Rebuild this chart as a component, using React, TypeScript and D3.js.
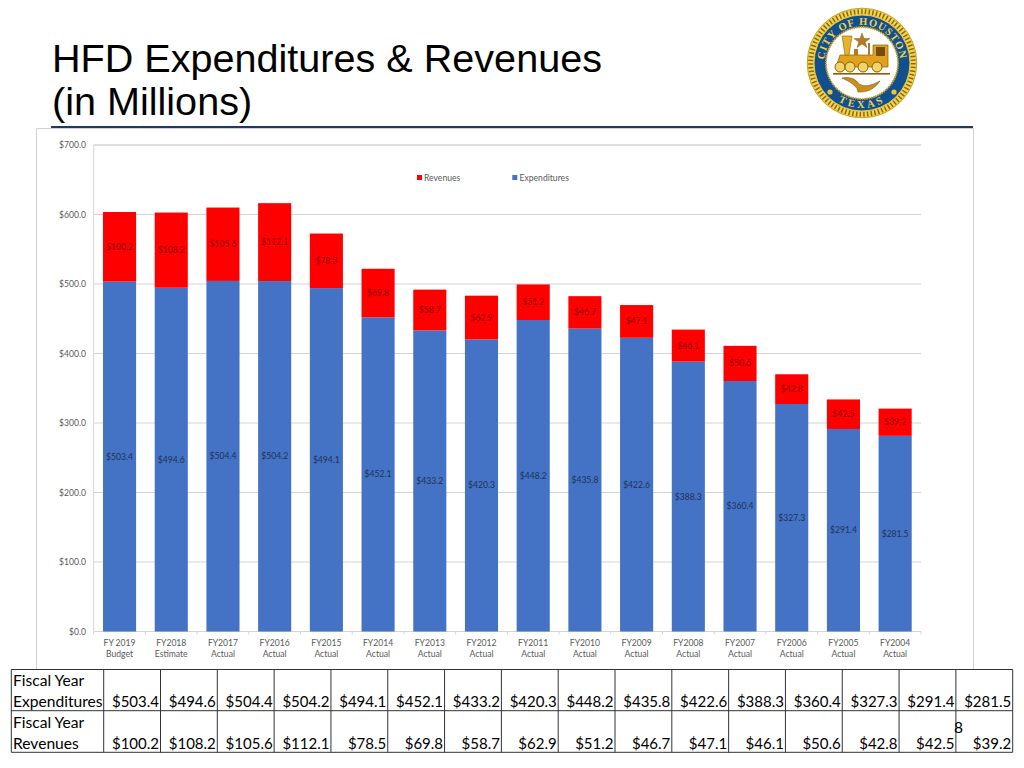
import * as d3 from "d3"

const years = ["FY 2019", "FY2018", "FY2017", "FY2016", "FY2015", "FY2014", "FY2013", "FY2012", "FY2011", "FY2010", "FY2009", "FY2008", "FY2007", "FY2006", "FY2005", "FY2004"]
const statuses = ["Budget", "Estimate", "Actual", "Actual", "Actual", "Actual", "Actual", "Actual", "Actual", "Actual", "Actual", "Actual", "Actual", "Actual", "Actual", "Actual"]
const expenditures = [503.4, 494.6, 504.4, 504.2, 494.1, 452.1, 433.2, 420.3, 448.2, 435.8, 422.6, 388.3, 360.4, 327.3, 291.4, 281.5]
const revenues = [100.2, 108.2, 105.6, 112.1, 78.5, 69.8, 58.7, 62.9, 51.2, 46.7, 47.1, 46.1, 50.6, 42.8, 42.5, 39.2]
const yTicks = [0, 100, 200, 300, 400, 500, 600, 700]

const BLUE = "#4472c4"
const RED = "#ff0000"
const GREY = "#595959"
const chartFont = "Lato, 'Open Sans', sans-serif"

const x = d3.scaleBand<number>().domain(d3.range(years.length)).range([93.7, 921]).paddingInner(0.36).paddingOuter(0.18)
const y = d3.scaleLinear().domain([0, 700]).range([631.5, 145])
const money = (v: number) => `$${v.toFixed(1)}`

// table column edges
const tableCol = d3.scaleLinear().domain([0, 16]).range([103.7, 1012.7])
const tableRows = [669.5, 710.7, 752.3]

function Seal() {
  return (
    <g transform="translate(862,63)">
      <circle r={54.8} fill="#f4d354" stroke="#b8900f" strokeWidth={0.8} />
      <circle r={51.3} fill="none" stroke="#8a6a08" strokeWidth={5} strokeDasharray="1.5 2.2" />
      <circle r={48} fill="#10508f" stroke="#e9c53b" strokeWidth={1} />
      <circle r={36} fill="#fff" stroke="#c9a227" strokeWidth={2} strokeDasharray="1.5 0.8" />
      <defs>
        <path id="sealTop" d="M -37.67 5 A 38 38 0 1 1 37.67 5" />
        <path id="sealBottom" d="M -38.07 24 A 45 45 0 0 0 38.07 24" />
      </defs>
      <text fontFamily="'Liberation Serif', serif" fontSize={10.5} fontWeight={700} fill="#f0cf4a" letterSpacing={1}>
        <textPath href="#sealTop" startOffset="50%" textAnchor="middle">CITY OF HOUSTON</textPath>
      </text>
      <text fontFamily="'Liberation Serif', serif" fontSize={10.5} fontWeight={700} fill="#f0cf4a" letterSpacing={3}>
        <textPath href="#sealBottom" startOffset="50%" textAnchor="middle">TEXAS</textPath>
      </text>
      <path d="M 0 -30 L 2 -24.5 L 8 -24.5 L 3.2 -21 L 5 -15.5 L 0 -19 L -5 -15.5 L -3.2 -21 L -8 -24.5 L -2 -24.5 Z" fill="#b5792a" stroke="#8a6a08" strokeWidth={0.5} />
      {/* locomotive */}
      <path d="M -26 4 L -22 -8 L 11 -8 L 11 -18 L 26 -18 L 26 4 Z" fill="#dfa21c" stroke="#8a5f08" strokeWidth={0.7} />
      <path d="M -17 -8 L -20 -27 L -10 -27 L -13 -8 Z" fill="#e6b32a" stroke="#8a5f08" strokeWidth={0.6} />
      <rect x={-8} y={-14} width={4} height={6} fill="#b5792a" />
      <rect x={6} y={-20} width={2} height={12} fill="#b5792a" />
      <rect x={14} y={-16} width={9} height={9} fill="#7a4a08" />
      {[-22, -12, 1, 15].map((cx) => (
        <circle key={cx} cx={cx} cy={4} r={5} fill="#f3d468" stroke="#8a5f08" strokeWidth={1} />
      ))}
      <rect x={-29} y={10} width={57} height={1.6} fill="#8a5f08" />
      {/* plough */}
      <path d="M -20 15 Q -8 13 -3 21 Q 4 26 18 18 Q 10 30 -4 29 Q -4 22 -20 15 Z" fill="#c98f1c" stroke="#8a5f08" strokeWidth={0.7} />
      <circle cx={-32} cy={29} r={2.6} fill="#e9c53b" />
      <circle cx={32} cy={29} r={2.6} fill="#e9c53b" />
    </g>
  )
}

export default function App() {
  const bw = x.bandwidth()
  const axisLeft = y.range()[0]
  return (
    <svg width={1024} height={768} viewBox="0 0 1024 768" style={{ position: "absolute", left: 0, top: 0, display: "block", background: "#fff" }}>
      {/* slide title */}
      <g fontFamily="'Liberation Sans', Arial, sans-serif" fontSize={39.6} fill="#000">
        <text x={52} y={72}>HFD Expenditures &amp; Revenues</text>
        <text x={52} y={115}>(in Millions)</text>
      </g>
      <Seal />

      {/* chart frame */}
      <path d="M 36.5 669 L 36.5 128.5 L 973.5 128.5 L 973.5 669" fill="none" stroke="#d0d0d0" strokeWidth={1} />
      <line x1={51} x2={973} y1={127} y2={127} stroke="#1f3864" strokeWidth={2} />

      {/* grid */}
      {yTicks.filter((t) => t > 0).map((t) => (
        <line key={t} x1={x.range()[0]} x2={x.range()[1]} y1={y(t)} y2={y(t)} stroke="#d4d4d4" strokeWidth={t === 700 ? 1.6 : 1.2} />
      ))}
      <line x1={93.7} x2={93.7} y1={y(700)} y2={axisLeft} stroke="#d4d4d4" />
      <line x1={93.7} x2={921} y1={axisLeft} y2={axisLeft} stroke="#d4d4d4" strokeWidth={1.2} />
      {d3.range(years.length + 1).map((i) => {
        const tx = 93.7 + (i * (921 - 93.7)) / years.length
        return <line key={i} x1={tx} x2={tx} y1={axisLeft} y2={axisLeft + 3} stroke="#d4d4d4" />
      })}
      <g fontFamily={chartFont} fontSize={8.6} fill={GREY} textAnchor="end">
        {yTicks.map((t) => (
          <text key={t} x={86} y={y(t) + 3}>{`$${t.toFixed(1)}`}</text>
        ))}
      </g>

      {/* stacked bars */}
      {years.map((yr, i) => {
        const left = x(i) as number
        const total = expenditures[i] + revenues[i]
        const cx = left + bw / 2
        return (
          <g key={yr}>
            <rect x={left} y={y(expenditures[i])} width={bw} height={y(0) - y(expenditures[i])} fill={BLUE} />
            <rect x={left} y={y(total)} width={bw} height={y(expenditures[i]) - y(total)} fill={RED} />
            <g fontFamily={chartFont} fontSize={8.6} textAnchor="middle">
              <text x={cx} y={y(expenditures[i] / 2) + 3} fill="#1e3358">{money(expenditures[i])}</text>
              <text x={cx} y={y(expenditures[i] + revenues[i] / 2) + 3} fill="#8b0000">{money(revenues[i])}</text>
              <text x={cx} y={646} fill={GREY}>{yr}</text>
              <text x={cx} y={657} fill={GREY}>{statuses[i]}</text>
            </g>
          </g>
        )
      })}

      {/* legend */}
      <rect x={417} y={175} width={5} height={5} fill={RED} />
      <text x={424} y={180.5} fontFamily={chartFont} fontSize={8.6} fill={GREY}>Revenues</text>
      <rect x={512.3} y={175} width={5} height={5} fill={BLUE} />
      <text x={519.5} y={180.5} fontFamily={chartFont} fontSize={8.6} fill={GREY}>Expenditures</text>

      {/* data table */}
      <g stroke="#333" strokeWidth={1}>
        {tableRows.map((r) => (
          <line key={r} x1={11.3} x2={1012.7} y1={r} y2={r} />
        ))}
        <line x1={11.3} x2={11.3} y1={tableRows[0]} y2={tableRows[2]} />
        {d3.range(17).map((i) => (
          <line key={i} x1={tableCol(i)} x2={tableCol(i)} y1={tableRows[0]} y2={tableRows[2]} />
        ))}
      </g>
      <g fontFamily={chartFont} fontSize={15.6} fill="#000">
        <text x={13} y={686}>Fiscal Year</text>
        <text x={13} y={707}>Expenditures</text>
        <text x={13} y={728}>Fiscal Year</text>
        <text x={13} y={749}>Revenues</text>
        <g textAnchor="end" fontSize={15}>
          {expenditures.map((v, i) => (
            <text key={years[i]} x={tableCol(i + 1) - 1.5} y={707}>{money(v)}</text>
          ))}
          {revenues.map((v, i) => (
            <text key={years[i]} x={tableCol(i + 1) - 1.5} y={749}>{money(v)}</text>
          ))}
        </g>
        <text x={954} y={733}>8</text>
      </g>
    </svg>
  )
}
